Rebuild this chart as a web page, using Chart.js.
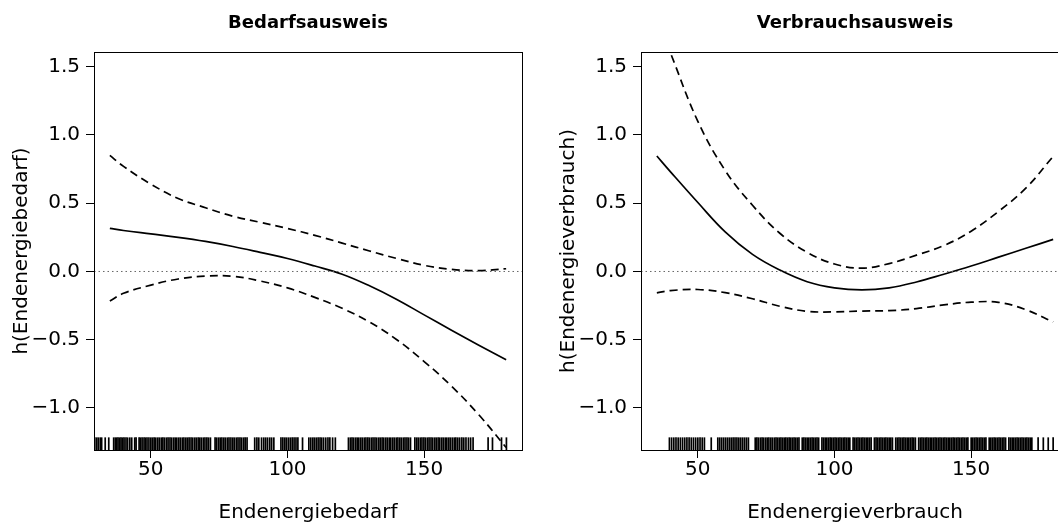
<!DOCTYPE html>
<html>
<head>
<meta charset="utf-8">
<script src="https://cdn.jsdelivr.net/npm/chart.js@4"></script>
<style>
  html, body { margin: 0; padding: 0; background: #fff; overflow: hidden; width: 1058px; height: 526px; }
  canvas { position: absolute; top: 0; }
  #bedarf { left: 0; }
  #verbrauch { left: 547px; }
</style>
</head>
<body>
<canvas id="bedarf" width="540" height="526"></canvas>
<canvas id="verbrauch" width="540" height="526"></canvas>
<script>
// x positions where the fitted curves were read
const xGrid = [35, 40, 50, 60, 70, 80, 90, 100, 110, 120, 130, 140, 150, 160, 170, 180];

// Bedarfsausweis: fit and confidence band
const bedarfFit   = [0.316, 0.30, 0.275, 0.25, 0.22, 0.183, 0.14, 0.095, 0.04, -0.02, -0.105, -0.205, -0.318, -0.43, -0.54, -0.647];
const bedarfUpper = [0.85, 0.77, 0.64, 0.535, 0.467, 0.405, 0.36, 0.315, 0.265, 0.208, 0.15, 0.095, 0.045, 0.015, 0.006, 0.02];
const bedarfLower = [-0.216, -0.16, -0.10, -0.055, -0.034, -0.035, -0.07, -0.12, -0.19, -0.27, -0.37, -0.50, -0.66, -0.84, -1.05, -1.29];

// Verbrauchsausweis: fit and confidence band
const verbrauchFit   = [0.846, 0.73, 0.505, 0.29, 0.125, 0.01, -0.075, -0.12, -0.135, -0.12, -0.077, -0.02, 0.04, 0.105, 0.17, 0.235];
const verbrauchUpper = [1.85, 1.60, 1.10, 0.74, 0.485, 0.28, 0.14, 0.055, 0.024, 0.058, 0.12, 0.19, 0.295, 0.44, 0.61, 0.843];
const verbrauchLower = [-0.157, -0.14, -0.132, -0.155, -0.20, -0.255, -0.292, -0.296, -0.29, -0.287, -0.272, -0.245, -0.225, -0.226, -0.28, -0.37];

// rug marks (observed x values)
const bedarfRug = [29.5, 30.2, 30.8, 31.5, 32.0, 33.3, 34.6, 36.4, 37.0, 37.5, 38.0, 38.6, 39.1, 39.7, 40.2, 40.9, 41.5, 42.3, 43.0, 44.1, 44.6, 45.7, 46.2, 46.8, 47.5, 48.0, 48.6, 49.3, 50.0, 50.6, 51.2, 51.8, 52.5, 53.1, 53.8, 54.4, 55.0, 55.7, 56.3, 57.0, 57.6, 58.3, 58.9, 59.5, 60.2, 60.8, 61.5, 62.1, 62.8, 63.4, 64.0, 64.7, 65.3, 66.0, 66.6, 67.3, 67.9, 68.5, 69.2, 69.8, 70.5, 71.1, 71.8, 73.5, 74.1, 74.8, 75.4, 76.0, 76.7, 77.3, 78.0, 78.6, 79.3, 80.0, 80.6, 81.3, 81.9, 82.6, 83.2, 83.9, 84.5, 85.2, 88.0, 88.8, 89.5, 90.5, 91.3, 92.0, 92.7, 93.5, 94.2, 95.0, 97.6, 98.3, 99.0, 99.6, 100.3, 101.0, 101.7, 102.4, 103.1, 103.8, 105.5, 107.8, 108.5, 109.2, 109.8, 110.5, 111.2, 111.9, 112.5, 113.2, 114.0, 114.8, 115.5, 116.5, 117.5, 122.3, 123.0, 123.6, 124.2, 124.9, 125.5, 126.1, 126.8, 127.4, 128.1, 128.7, 129.4, 130.0, 130.7, 131.3, 132.0, 132.6, 133.3, 133.9, 134.6, 135.2, 135.9, 136.5, 137.2, 137.8, 138.5, 139.1, 139.8, 140.4, 141.1, 141.7, 142.4, 143.0, 143.7, 144.3, 145.0, 146.6, 147.3, 147.9, 148.6, 149.2, 149.9, 150.5, 151.2, 151.8, 152.5, 153.1, 153.8, 154.4, 155.1, 155.7, 156.4, 157.0, 157.7, 158.3, 159.0, 159.6, 160.3, 161.0, 161.6, 162.3, 163.0, 163.8, 164.5, 165.3, 166.2, 167.0, 167.9, 173.4, 175.0, 178.3, 180.1];
const verbrauchRug = [39.6, 40.4, 41.2, 42.0, 42.8, 43.6, 44.4, 45.2, 46.0, 46.8, 47.6, 48.4, 49.2, 50.0, 50.8, 51.6, 52.4, 54.9, 57.3, 58.0, 58.7, 59.4, 60.1, 60.8, 61.5, 62.2, 62.9, 63.6, 64.3, 65.0, 65.7, 66.4, 67.1, 67.8, 68.5, 71.0, 71.6, 72.2, 72.9, 73.5, 74.1, 74.8, 75.4, 76.0, 76.7, 77.3, 78.0, 78.6, 79.2, 79.8, 80.4, 81.0, 81.6, 82.2, 82.8, 83.4, 84.0, 84.6, 85.2, 85.8, 86.4, 87.0, 88.2, 88.8, 89.4, 90.0, 90.6, 91.2, 91.8, 92.4, 93.0, 93.6, 94.2, 95.4, 96.0, 96.6, 97.2, 97.8, 98.4, 99.0, 99.6, 100.2, 100.8, 101.4, 102.0, 102.6, 103.2, 103.8, 104.4, 105.0, 105.6, 106.8, 107.4, 108.0, 108.6, 109.2, 109.8, 110.4, 111.0, 111.6, 112.2, 112.8, 113.4, 114.6, 115.2, 115.8, 116.4, 117.0, 117.6, 118.2, 118.8, 119.4, 120.0, 120.6, 121.2, 122.4, 123.0, 123.6, 124.2, 124.8, 125.4, 126.0, 126.6, 127.2, 127.8, 128.4, 129.0, 129.6, 130.8, 131.4, 132.0, 132.6, 133.2, 133.8, 134.4, 135.0, 135.6, 136.2, 136.8, 137.4, 138.0, 138.6, 139.2, 139.8, 140.4, 141.0, 141.6, 142.2, 142.8, 143.4, 144.0, 144.6, 145.2, 145.8, 146.4, 147.0, 147.6, 148.2, 148.8, 150.0, 150.6, 151.2, 151.8, 152.4, 153.0, 153.6, 154.2, 154.8, 155.4, 156.6, 157.2, 157.8, 158.4, 159.0, 159.6, 160.2, 160.8, 161.4, 162.0, 162.6, 163.8, 164.4, 165.0, 165.6, 166.2, 166.8, 167.4, 168.0, 168.6, 169.2, 169.8, 170.4, 171.0, 171.6, 172.2, 174.5, 176.4, 178.2, 180.0];

const xTicks = [50, 100, 150];
const yTicks = [-1.0, -0.5, 0.0, 0.5, 1.0, 1.5];
const xMin = 29.2, xMax = 185.8;
const yMin = -1.308, yMax = 1.608;
const rugY = -1.263;

const FONT = "'DejaVu Sans', sans-serif";

// box around the plot region, like R's box()
const boxPlugin = {
  id: 'box',
  afterDatasetsDraw(chart) {
    const { ctx, chartArea: a } = chart;
    ctx.save();
    ctx.strokeStyle = '#000';
    ctx.lineWidth = 1;
    ctx.strokeRect(a.left + 0.5, a.top + 0.5, a.right - a.left, a.bottom - a.top);
    ctx.restore();
  }
};

const pts = ys => xGrid.map((x, i) => ({ x, y: ys[i] }));

function makeChart(id, title, xLabel, yLabel, fit, upper, lower, rug) {
  const curve = (data, dash) => ({
    data, borderColor: '#000', borderWidth: 1.7, borderDash: dash,
    pointRadius: 0, tension: 0.4, fill: false
  });
  return new Chart(document.getElementById(id), {
    type: 'line',
    data: {
      datasets: [
        {
          data: rug.map(x => ({ x, y: rugY })),
          showLine: false, pointStyle: 'line', pointRotation: 90,
          pointRadius: 6.5, pointBorderWidth: 1.7, pointBorderColor: '#000'
        },
        {
          data: [{ x: xMin, y: 0 }, { x: xMax, y: 0 }],
          borderColor: '#666', borderWidth: 1, borderDash: [1.5, 3], pointRadius: 0
        },
        curve(pts(upper), [8, 5]),
        curve(pts(lower), [8, 5]),
        curve(pts(fit), [])
      ]
    },
    options: {
      responsive: false,
      animation: false,
      layout: { padding: { left: 0, right: 18, top: 0, bottom: 0 } },
      plugins: {
        legend: { display: false },
        tooltip: { enabled: false },
        title: {
          display: true, text: title, fullSize: false, color: '#000',
          font: { family: FONT, size: 18, weight: 'bold', lineHeight: 1.2 },
          padding: { top: 12.2, bottom: 18.2 }
        }
      },
      scales: {
        x: {
          type: 'linear', min: xMin, max: xMax,
          afterBuildTicks: s => { s.ticks = xTicks.map(v => ({ value: v })); },
          afterFit: s => { s.height = 76; },
          ticks: { color: '#000', font: { family: FONT, size: 20 }, padding: 0, maxRotation: 0, autoSkip: false },
          grid: { drawOnChartArea: false, color: '#000', tickColor: '#000', tickLength: 8 },
          border: { color: '#000', width: 1 },
          title: { display: true, text: xLabel, color: '#000', font: { family: FONT, size: 20, lineHeight: 1.2 }, padding: { top: 0, bottom: 1 } }
        },
        y: {
          min: yMin, max: yMax,
          afterBuildTicks: s => { s.ticks = yTicks.map(v => ({ value: v })); },
          afterFit: s => { s.width = 94; },
          ticks: {
            color: '#000', font: { family: FONT, size: 20 }, padding: 6,
            callback: v => v.toFixed(1).replace('-', '\u2212')
          },
          grid: { drawOnChartArea: false, color: '#000', tickColor: '#000', tickLength: 8 },
          border: { color: '#000', width: 1 },
          title: { display: true, text: yLabel, color: '#000', font: { family: FONT, size: 20, lineHeight: 1.2 }, padding: { top: 10, bottom: 0 } }
        }
      }
    },
    plugins: [boxPlugin]
  });
}

makeChart('bedarf', 'Bedarfsausweis', 'Endenergiebedarf', 'h(Endenergiebedarf)',
  bedarfFit, bedarfUpper, bedarfLower, bedarfRug);
makeChart('verbrauch', 'Verbrauchsausweis', 'Endenergieverbrauch', 'h(Endenergieverbrauch)',
  verbrauchFit, verbrauchUpper, verbrauchLower, verbrauchRug);
</script>
</body>
</html>
